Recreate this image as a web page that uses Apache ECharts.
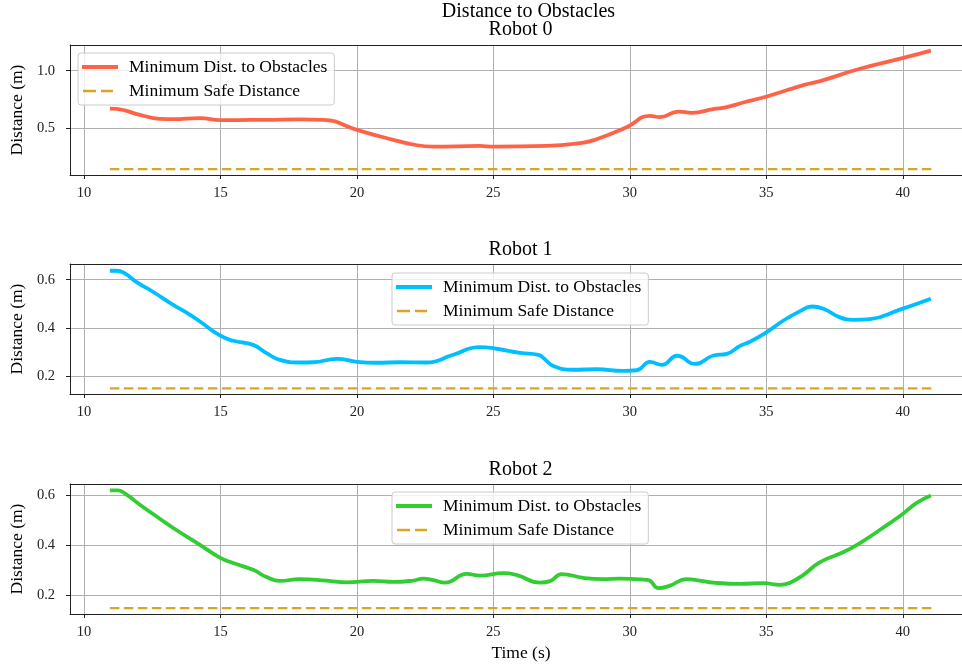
<!DOCTYPE html>
<html>
<head>
<meta charset="utf-8">
<script src="https://cdn.jsdelivr.net/npm/echarts@6/dist/echarts.min.js"></script>
<style>
html,body{margin:0;padding:0;background:#fff;}
#chart{width:962px;height:664px;}
</style>
</head>
<body>
<div id="chart"></div>
<script>
// ---- Data ----
const mainTitle = "Distance to Obstacles";
const robotTitles = ["Robot 0", "Robot 1", "Robot 2"];
const xLabel = "Time (s)";
const yLabel = "Distance (m)";
const lineName = "Minimum Dist. to Obstacles";
const safeName = "Minimum Safe Distance";
const safeDistance = 0.15;
const safeStart = 10.95;
const safeEnd = 41.05;
const xTicks = [10, 15, 20, 25, 30, 35, 40];
const yTicks0 = [0.5, 1.0];
const yTicks1 = [0.2, 0.4, 0.6];
const yTicks2 = [0.2, 0.4, 0.6];

const time0 = [10.95, 11.2, 12.05, 12.78, 13.26, 14.25, 15.0, 16.7, 17.9, 18.77, 20.0, 20.97, 22.2, 22.8, 24.5, 25.0, 26.95, 28.3, 28.78, 29.88, 30.74, 31.1, 31.78, 32.27, 33.06, 33.55, 34.16, 35.02, 36.36, 36.97, 38.43, 40.02, 41.03];
const dist0 = [0.673, 0.67, 0.619, 0.584, 0.581, 0.59, 0.573, 0.576, 0.58, 0.576, 0.489, 0.425, 0.356, 0.344, 0.35, 0.344, 0.35, 0.379, 0.408, 0.512, 0.61, 0.599, 0.647, 0.636, 0.668, 0.685, 0.725, 0.777, 0.876, 0.91, 1.017, 1.11, 1.173];

const time1 = [10.95, 11.2, 11.47, 11.93, 12.54, 13.27, 13.76, 14.25, 14.98, 15.47, 16.2, 16.69, 17.18, 17.91, 18.4, 19.26, 20.0, 20.72, 21.58, 22.55, 23.53, 24.5, 25.12, 25.98, 26.65, 26.83, 27.2, 27.93, 28.79, 29.76, 30.25, 30.74, 31.17, 31.74, 32.39, 33.06, 33.55, 34.04, 34.4, 35.02, 35.63, 36.24, 36.67, 37.09, 37.7, 38.19, 38.8, 39.9, 41.03];
const dist1 = [0.637, 0.637, 0.628, 0.59, 0.549, 0.496, 0.464, 0.427, 0.369, 0.347, 0.33, 0.296, 0.268, 0.257, 0.258, 0.272, 0.26, 0.256, 0.258, 0.257, 0.289, 0.321, 0.314, 0.297, 0.289, 0.276, 0.243, 0.227, 0.229, 0.222, 0.225, 0.26, 0.247, 0.285, 0.251, 0.286, 0.293, 0.326, 0.343, 0.383, 0.431, 0.47, 0.489, 0.48, 0.444, 0.434, 0.437, 0.476, 0.521];

const time2 = [10.95, 11.25, 11.56, 12.05, 12.78, 13.27, 14.25, 14.98, 15.47, 16.2, 16.69, 17.18, 17.91, 18.89, 19.62, 20.6, 21.33, 22.06, 22.43, 22.8, 23.23, 24.03, 24.5, 25.37, 25.86, 26.71, 27.08, 27.5, 28.3, 29.03, 29.64, 30.62, 30.75, 31.05, 31.47, 32.08, 32.57, 33.06, 34.04, 34.89, 35.5, 35.87, 36.36, 36.97, 37.83, 38.43, 39.17, 39.96, 40.51, 41.03];
const dist2 = [0.62, 0.62, 0.603, 0.563, 0.507, 0.47, 0.403, 0.352, 0.33, 0.303, 0.274, 0.259, 0.266, 0.26, 0.253, 0.259, 0.255, 0.26, 0.268, 0.262, 0.252, 0.287, 0.28, 0.29, 0.282, 0.252, 0.258, 0.286, 0.271, 0.266, 0.268, 0.263, 0.259, 0.23, 0.24, 0.266, 0.26, 0.252, 0.247, 0.25, 0.243, 0.252, 0.283, 0.334, 0.374, 0.41, 0.463, 0.523, 0.57, 0.6];

const colors = ["#ff6347", "#00bfff", "#32cd32"];
const safeColor = "#daa520";
const serif = "'Liberation Serif', 'DejaVu Serif', serif";

// ---- Layout ----
const grids = [
  {left: 70, right: 0, top: 45, height: 130},
  {left: 70, right: 0, top: 264, height: 130},
  {left: 70, right: 0, top: 484, height: 130}
];
const xRange = [9.49, 42.17];
const yRanges = [[0.099, 1.222], [0.1266, 0.665], [0.1268, 0.6456]];
const yTickSets = [yTicks0, yTicks1, yTicks2];
const times = [time0, time1, time2];
const dists = [dist0, dist1, dist2];
const titleY = [29.5, 249.5, 469.5];
const legendPos = [{left: 78, top: 53}, {left: 392, top: 273}, {left: 392, top: 492}];

// icons drawn as paths, with invisible corner specks to keep the full 36x14 box
const solidIcon = 'path://M0,0L0.01,0L0.01,0.01Z M0,5H36V9H0Z M36,13.99L36,14L35.99,14Z';
const dashIcon = 'path://M0,0L0.01,0L0.01,0.01Z M1,5.8H14V8.2H1Z M19,5.8H31V8.2H19Z M36,13.99L36,14L35.99,14Z';

const zw = ["", "\u200b", "\u200b\u200b"];

const xAxes = [], yAxes = [], series = [], legends = [], graphics = [];
graphics.push({type: 'text', x: 528.5, y: 11.5, style: {text: mainTitle, font: "20px " + serif, fill: '#000', textAlign: 'center', textVerticalAlign: 'middle'}});
graphics.push({type: 'text', x: 521, y: 653, style: {text: xLabel, font: "17.5px " + serif, fill: '#000', textAlign: 'center', textVerticalAlign: 'middle'}});

for (let i = 0; i < 3; i++) {
  graphics.push({type: 'text', x: 520.5, y: titleY[i], style: {text: robotTitles[i], font: "20px " + serif, fill: '#000', textAlign: 'center', textVerticalAlign: 'middle'}});
  xAxes.push({
    type: 'value', gridIndex: i, min: xRange[0], max: xRange[1], position: 'bottom',
    axisLine: {show: true, onZero: false, lineStyle: {color: '#222', width: 1}},
    axisTick: {show: true, inside: false, length: 4, customValues: xTicks, lineStyle: {color: '#222'}},
    axisLabel: {customValues: xTicks, margin: 11, fontFamily: serif, fontSize: 14.5, color: '#222'},
    splitLine: {show: true, lineStyle: {color: '#b0b0b0', width: 1}}
  });
  yAxes.push({
    type: 'value', gridIndex: i, min: yRanges[i][0], max: yRanges[i][1],
    name: yLabel, nameLocation: 'middle', nameGap: 40, nameRotate: 90,
    nameTextStyle: {fontFamily: serif, fontSize: 17.5, color: '#000'},
    axisLine: {show: true, onZero: false, lineStyle: {color: '#222', width: 1}},
    axisTick: {show: true, inside: false, length: 4, customValues: yTickSets[i], lineStyle: {color: '#222'}},
    axisLabel: {customValues: yTickSets[i], margin: 15, fontFamily: serif, fontSize: 14.5, color: '#222',
      formatter: v => v.toFixed(1)},
    splitLine: {show: true, lineStyle: {color: '#b0b0b0', width: 1}}
  });
  const pts = times[i].map((t, k) => [t, dists[i][k]]);
  series.push({
    name: lineName + zw[i], type: 'line', xAxisIndex: i, yAxisIndex: i,
    data: pts, showSymbol: false, symbol: 'none', smooth: 0.5,
    lineStyle: {color: colors[i], width: 3.8}, itemStyle: {color: colors[i]}, z: 3, silent: true
  });
  series.push({
    name: safeName + zw[i], type: 'line', xAxisIndex: i, yAxisIndex: i,
    data: [[safeStart, safeDistance], [safeEnd, safeDistance]], showSymbol: false, symbol: 'none',
    lineStyle: {color: safeColor, width: 2.2, type: [9.5, 4.5]}, itemStyle: {color: safeColor}, z: 4, silent: true
  });
  legends.push({
    data: [{name: lineName + zw[i], icon: solidIcon}, {name: safeName + zw[i], icon: dashIcon}],
    orient: 'vertical', left: legendPos[i].left, top: legendPos[i].top,
    itemWidth: 36, itemHeight: 14, itemGap: 6, padding: [5, 7, 5, 4],
    backgroundColor: 'rgba(255,255,255,0.8)', borderColor: '#cccccc', borderWidth: 1, borderRadius: 3,
    selectedMode: false,
    formatter: n => n.replace(/\u200b/g, ''),
    textStyle: {fontFamily: serif, fontSize: 17.5, color: '#000', padding: [0, 0, 0, 6]}
  });
}
// top spines (no right spine: it lies outside the picture in the reference)
for (let i = 0; i < 3; i++) {
  xAxes.push({
    type: 'value', gridIndex: i, min: xRange[0], max: xRange[1], position: 'top',
    axisLine: {show: true, onZero: false, lineStyle: {color: '#222', width: 1}},
    axisTick: {show: false}, axisLabel: {show: false}, splitLine: {show: false}
  });
}

const chart = echarts.init(document.getElementById('chart'), null, {renderer: 'canvas'});
chart.setOption({
  animation: false,
  backgroundColor: '#fff',
  grid: grids.map(g => Object.assign({show: false}, g)),
  xAxis: xAxes,
  yAxis: yAxes,
  legend: legends,
  graphic: graphics,
  series: series
});
</script>
</body>
</html>
